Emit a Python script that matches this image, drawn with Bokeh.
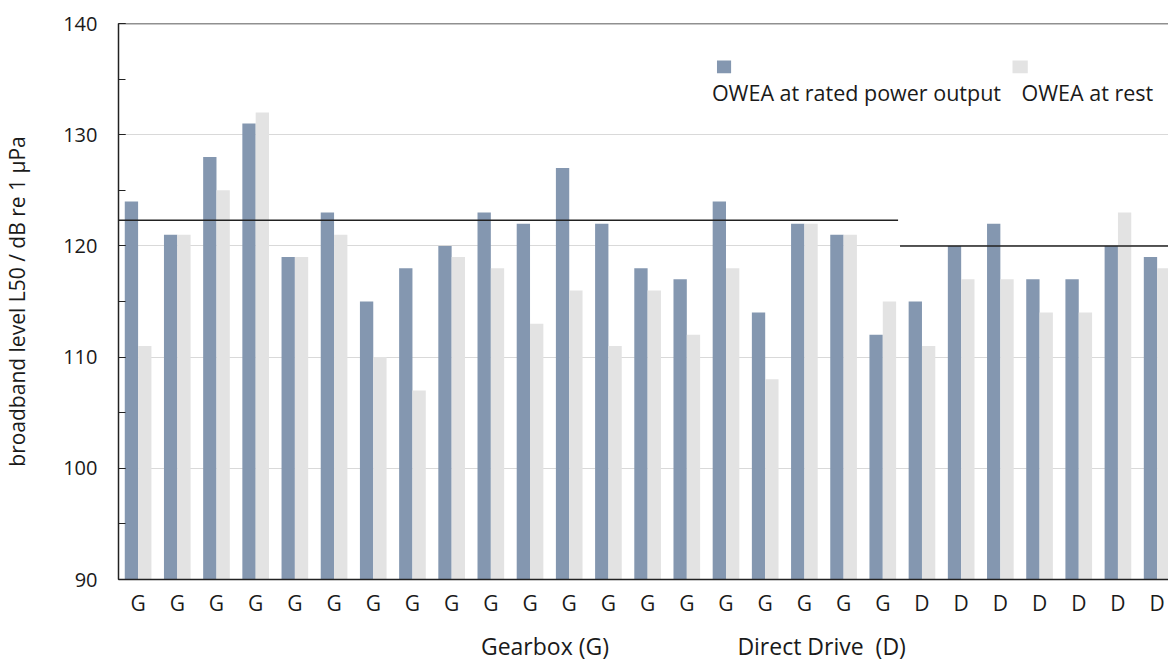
from bokeh.plotting import figure
from bokeh.models import (ColumnDataSource, FixedTicker, SingleIntervalTicker, Span,
                          Label, BoxAnnotation, Range1d, LinearAxis)
from bokeh.transform import dodge
from bokeh.embed import file_html
from bokeh.resources import INLINE

# ---------------- data ----------------
types = ["G"] * 20 + ["D"] * 7
rated = [124, 121, 128, 131, 119, 123, 115, 118, 120, 123,
         122, 127, 122, 118, 117, 124, 114, 122, 121, 112,
         115, 120, 122, 117, 117, 120, 119]
rest = [111, 121, 125, 132, 119, 121, 110, 107, 119, 118,
        113, 116, 111, 116, 112, 118, 108, 122, 121, 115,
        111, 117, 117, 114, 114, 123, 118]
# groups: names, label position (category units), reference level lines and extents
group_names = ["Gearbox (G)", "Direct Drive  (D)"]
group_label_x = [10.38, 17.44]
group_level = [122.3, 120.0]
group_x0 = [-0.5, 19.44]
group_x1 = [19.39, 26.5]
series_names = ["OWEA at rated power output", "OWEA at rest"]

DARK = "#8497b0"
LIGHT = "#e3e3e3"
TXT = "#1a1a1a"
LINE = "#222222"
FONT = "Open Sans"

idx = list(range(len(types)))
src = ColumnDataSource(dict(x=idx, rated=rated, rest=rest))

p = figure(width=1168, height=664, output_backend="svg", toolbar_location=None,
           x_range=Range1d(-0.5, 26.29), y_range=Range1d(90, 140),
           min_border_left=118, min_border_right=0, min_border_top=23,
           min_border_bottom=83)
p.outline_line_color = None
p.background_fill_color = "white"

p.vbar(x=dodge("x", -0.17, range=p.x_range), top="rated", bottom=90, width=0.34,
       source=src, fill_color=DARK, line_color=None)
p.vbar(x=dodge("x", 0.17, range=p.x_range), top="rest", bottom=90, width=0.34,
       source=src, fill_color=LIGHT, line_color=None)

# group level lines
p.segment(x0=group_x0, x1=group_x1, y0=group_level, y1=group_level,
          line_color=LINE, line_width=1.5)

# top border
p.add_layout(Span(location=140, dimension="width", line_color=LINE, line_width=1.5))

# y axis
yax = p.yaxis[0]
yax.ticker = SingleIntervalTicker(interval=10, num_minor_ticks=2)
yax.axis_line_color = LINE
yax.axis_line_width = 1.5
yax.major_tick_in = 7
yax.major_tick_out = 0
yax.minor_tick_in = 7
yax.minor_tick_out = 0
yax.major_tick_line_color = LINE
yax.minor_tick_line_color = LINE
yax.major_label_text_font = FONT
yax.major_label_text_font_size = "20px"
yax.major_label_text_color = TXT
yax.major_label_standoff = 21
yax.axis_label = "broadband level L50 / dB re 1 µPa"
yax.axis_label_text_font = FONT
yax.axis_label_text_font_size = "21px"
yax.axis_label_text_font_style = "normal"
yax.axis_label_text_color = TXT
yax.axis_label_standoff = 29

# x axis (category letters)
xax = p.xaxis[0]
xax.ticker = FixedTicker(ticks=idx)
xax.major_label_overrides = {i: t for i, t in zip(idx, types)}
xax.axis_line_color = LINE
xax.axis_line_width = 1.5
xax.major_tick_line_color = None
xax.minor_tick_line_color = None
xax.major_tick_out = 0
xax.minor_tick_out = 0
xax.major_label_text_font = FONT
xax.major_label_text_font_size = "21px"
xax.major_label_text_color = TXT
xax.major_label_standoff = 9

# second x axis for group names
gax = LinearAxis(ticker=FixedTicker(ticks=group_label_x),
                 major_label_overrides={x: n.replace("  ", " \u00a0")
                                        for x, n in zip(group_label_x, group_names)})
gax.axis_line_color = None
gax.major_tick_line_color = None
gax.minor_tick_line_color = None
gax.major_tick_out = 0
gax.minor_tick_out = 0
gax.major_label_text_font = FONT
gax.major_label_text_font_size = "23px"
gax.major_label_text_color = TXT
gax.major_label_standoff = 10
p.add_layout(gax, "below")

# grid
p.xgrid.grid_line_color = None
p.ygrid.ticker = FixedTicker(ticks=[100, 110, 120, 130])
p.ygrid.grid_line_color = "#d9d9d9"
p.ygrid.grid_line_width = 1

# legend (square above label)
for name, col, sq0, sq1, tx in zip(series_names, [DARK, LIGHT],
                                   [14.77, 22.31], [15.13, 22.70], [14.64, 22.54]):
    p.add_layout(BoxAnnotation(left=sq0, right=sq1, bottom=135.52, top=136.68,
                               fill_color=col, fill_alpha=1, line_color=None))
    p.add_layout(Label(x=tx, y=133.8, text=name, text_align="left",
                       text_baseline="alphabetic", text_font=FONT,
                       text_font_size="21.5px", text_color=TXT))

open("out.html", "w").write(file_html(p, INLINE))
